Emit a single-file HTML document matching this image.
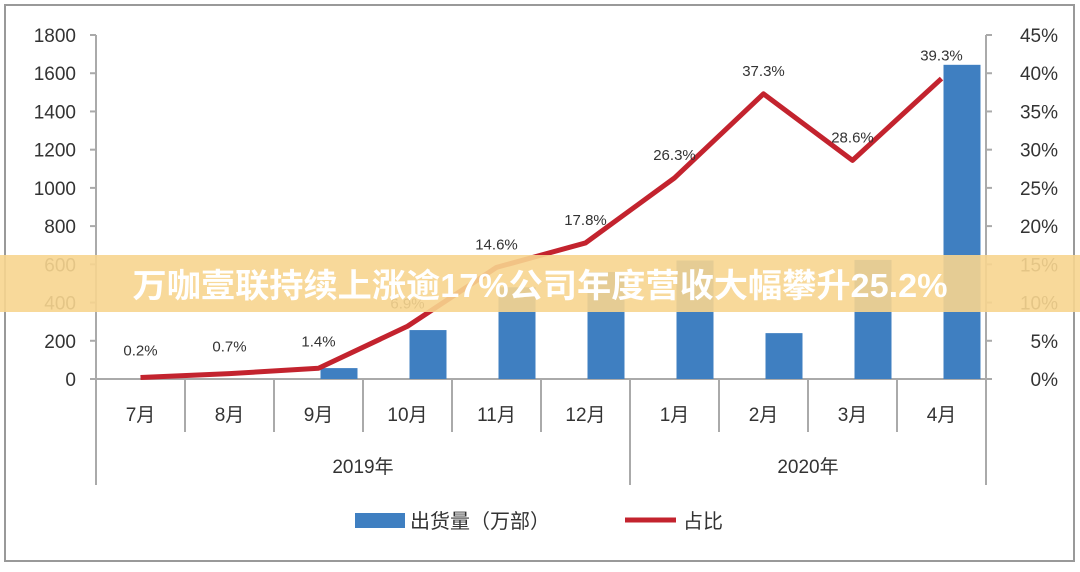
<!DOCTYPE html>
<html><head><meta charset="utf-8"><style>
body{margin:0;width:1080px;height:567px;background:#fff;overflow:hidden}
svg text{font-family:"Liberation Sans","Noto Sans CJK SC",sans-serif}
</style></head><body>
<svg id="c" width="1080" height="567"></svg>
<script>
const categories=["7月","8月","9月","10月","11月","12月","1月","2月","3月","4月"];
const shipments=[0,0,57,256,480,560,620,240,623,1644];
const shares=[0.2,0.7,1.4,6.9,14.6,17.8,26.3,37.3,28.6,39.3];
const shareLabels=["0.2%","0.7%","1.4%","6.9%","14.6%","17.8%","26.3%","37.3%","28.6%","39.3%"];
const leftTicks=[0,200,400,600,800,1000,1200,1400,1600,1800];
const rightTicks=[0,5,10,15,20,25,30,35,40,45];
const years=["2019年","2020年"];
const NS="http://www.w3.org/2000/svg";
const svg=document.getElementById('c');
function el(t,a,p){const e=document.createElementNS(NS,t);for(const k in a)e.setAttribute(k,a[k]);(p||svg).appendChild(e);return e;}
const X0=96,X1=986,Y0=379,Y1=35;
const cw=(X1-X0)/categories.length;
const xc=i=>X0+cw*(i+0.5);
const yL=v=>Y0-(v/1800)*(Y0-Y1);
const yR=v=>Y0-(v/45)*(Y0-Y1);
let r=el('rect',{x:5,y:5,width:1069,height:556,fill:'none',stroke:'#999','stroke-width':2});

el('line',{x1:X0,y1:Y1,x2:X0,y2:Y0,stroke:'#aaa','stroke-width':2});
el('line',{x1:X1,y1:Y1,x2:X1,y2:Y0,stroke:'#aaa','stroke-width':2});
el('line',{x1:X0,y1:Y0,x2:X1,y2:Y0,stroke:'#aaa','stroke-width':2});
leftTicks.forEach(v=>{el('line',{x1:X0-6,y1:yL(v),x2:X0,y2:yL(v),stroke:'#aaa','stroke-width':2});
 const t=el('text',{x:76,y:yL(v)+7,'text-anchor':'end','font-size':19,fill:'#333'});t.textContent=v;
 });
rightTicks.forEach(v=>{el('line',{x1:X1,y1:yR(v),x2:X1+6,y2:yR(v),stroke:'#aaa','stroke-width':2});
 const t=el('text',{x:1058,y:yR(v)+7,'text-anchor':'end','font-size':19,fill:'#333'});t.textContent=v+'%';
 });
for(let i=0;i<=categories.length;i++){const x=X0+cw*i;const long=(i==0||i==6||i==10);
 el('line',{x1:x,y1:Y0,x2:x,y2:long?485:432,stroke:'#aaa','stroke-width':2});}
categories.forEach((c,i)=>{const t=el('text',{x:xc(i),y:421,'text-anchor':'middle','font-size':19,fill:'#333'});t.textContent=c;
 });
[[0,6],[6,10]].forEach((g,k)=>{const t=el('text',{x:(X0+cw*g[0]+X0+cw*g[1])/2,y:473,'text-anchor':'middle','font-size':19,fill:'#333'});t.textContent=years[k];
 });
shipments.forEach((v,i)=>{if(v<=0)return;const b=el('rect',{x:xc(i)+2,y:yL(v),width:37,height:Y0-yL(v),fill:'#3f7fc1'});
 });
const pl=el('polyline',{points:shares.map((v,i)=>xc(i)+','+yR(v)).join(' '),fill:'none',stroke:'#c3232e','stroke-width':5,'stroke-linejoin':'round'});

shares.forEach((v,i)=>{const t=el('text',{x:xc(i),y:yR(v)-(i<3?22:18),'text-anchor':'middle','font-size':15,fill:'#333'});t.textContent=shareLabels[i];
 });
let lg=el('rect',{x:355,y:513,width:50,height:15,fill:'#3f7fc1'});
let lt=el('text',{x:410,y:528,'font-size':20,fill:'#333'});lt.textContent='出货量（万部）';
let ll=el('line',{x1:625,y1:520,x2:676,y2:520,stroke:'#c3232e','stroke-width':5});
let lt2=el('text',{x:683,y:528,'font-size':20,fill:'#333'});lt2.textContent='占比';
let bn=el('rect',{x:0,y:255,width:1080,height:57,fill:'#f7d58f','fill-opacity':0.9});
let bt=el('text',{x:540,y:297,'text-anchor':'middle','font-size':33,'font-weight':'bold',fill:'#fff',textLength:815,lengthAdjust:'spacingAndGlyphs'});bt.textContent='万咖壹联持续上涨逾17%公司年度营收大幅攀升25.2%';

</script>
</body></html>
